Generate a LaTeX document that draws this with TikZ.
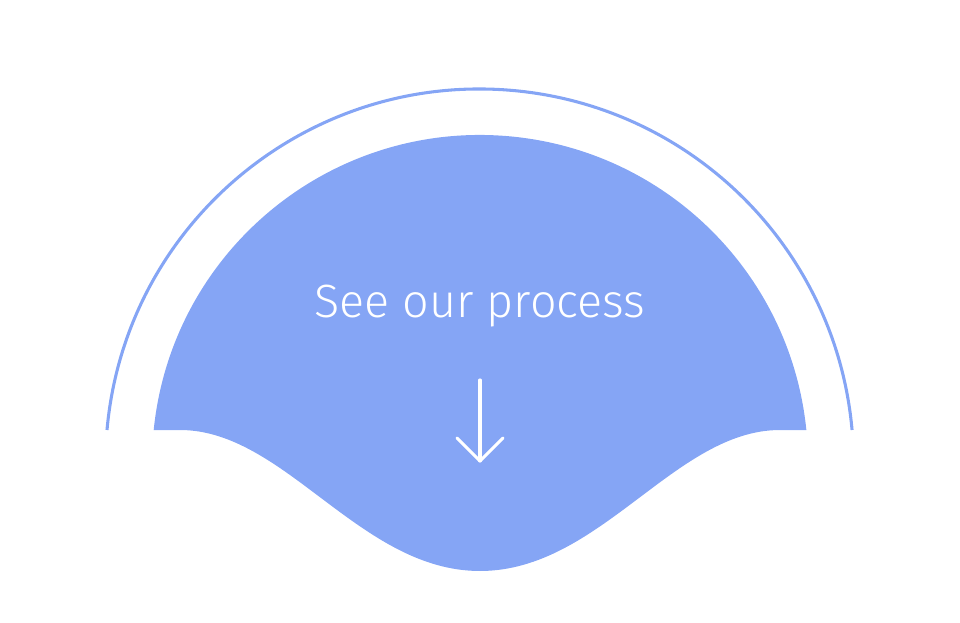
\documentclass[tikz,border=0pt]{standalone}
\usepackage{fontspec}
\setmainfont{Fira Sans Light}
\usetikzlibrary{calc}
\definecolor{softblue}{RGB}{133,165,245}

\begin{document}
\begin{tikzpicture}[x=0.75pt,y=0.75pt,
      line/.style={white,line width=2.3pt,line cap=round,line join=round}]
      \useasboundingbox (0,0) rectangle (960,622);
      \coordinate (centre) at (480,159);
      % outer ring
      \draw[softblue,line width=2.3pt] (107,192) arc (174.94:5.06:374);
      % inner shape with wave
      \fill[softblue] (153.7,192) arc (174.23:5.77:328) -- (780,192)
            .. controls (675,192) and (600,51) .. (480,51)
            .. controls (360,51) and (285,192) .. (180,192) -- cycle;
      \node[anchor=base,white,font=\fontsize{35}{38}\selectfont] (title) at (480,305) {See our process};
      \coordinate (arrowtop) at (480,242);
      \coordinate (arrowtip) at (480,161);
      \draw[line] (arrowtop) -- (arrowtip);
      \draw[line] ($(arrowtip)+(-23,23)$) -- (arrowtip) -- ($(arrowtip)+(23,23)$);
\end{tikzpicture}
\end{document}
